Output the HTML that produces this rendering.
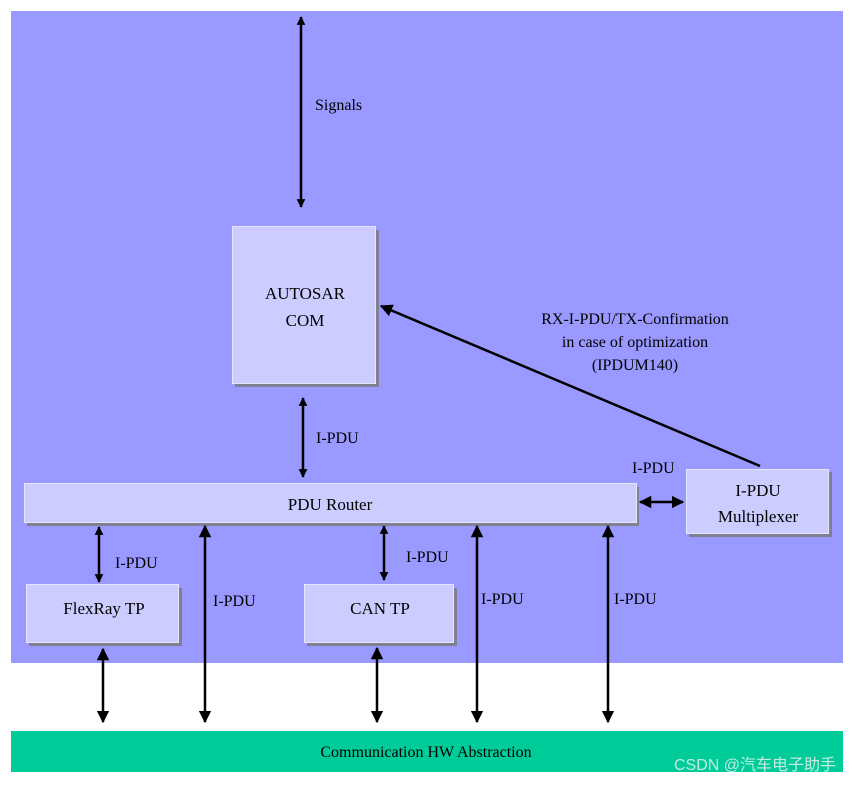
<!DOCTYPE html>
<html><head><meta charset="utf-8"><style>
body{margin:0;background:#fff}
svg text{font-family:"Liberation Serif",serif;fill:#000}
</style></head><body>
<svg width="853" height="783" xmlns="http://www.w3.org/2000/svg">
<defs>
<marker id="a" viewBox="0 0 10 10" refX="9" refY="5" markerWidth="5" markerHeight="5" orient="auto-start-reverse"><path d="M0,0L10,5L0,10z" fill="#000"/></marker>
<marker id="b" viewBox="0 0 10 10" refX="9" refY="5" markerWidth="3.5" markerHeight="3.5" orient="auto-start-reverse"><path d="M0,0L10,5L0,10z" fill="#000"/></marker>
</defs>
<rect x="11" y="11" width="832" height="652" fill="#9999ff"/>
<rect x="11" y="731" width="832" height="41" fill="#00cc99"/>
<text x="426" y="757" font-size="16" text-anchor="middle">Communication HW Abstraction</text>
<text x="836" y="770" font-size="16" text-anchor="end" style="font-family:'Liberation Sans','Noto Sans CJK SC',sans-serif;fill:#e8f0ee" opacity="0.85">CSDN @汽车电子助手</text>
<g fill="#808090">
<rect x="235" y="230" width="144" height="157"/>
<rect x="27" y="487" width="612" height="39"/>
<rect x="29" y="588" width="153" height="58"/>
<rect x="307" y="588" width="150" height="58"/>
<rect x="689" y="472" width="143" height="65"/>
</g>
<g fill="#ccccff" stroke="#e6e6ff" stroke-width="1">
<rect x="232.5" y="226.5" width="143" height="157"/>
<rect x="24.5" y="483.5" width="612" height="39"/>
<rect x="26.5" y="584.5" width="152" height="58"/>
<rect x="304.5" y="584.5" width="149" height="58"/>
<rect x="686.5" y="469.5" width="142" height="64"/>
</g>
<text x="305" y="299" font-size="17" text-anchor="middle">AUTOSAR</text>
<text x="305" y="326" font-size="17" text-anchor="middle">COM</text>
<text x="330" y="510" font-size="17" text-anchor="middle">PDU Router</text>
<text x="104" y="614" font-size="17" text-anchor="middle">FlexRay TP</text>
<text x="380" y="614" font-size="17" text-anchor="middle">CAN TP</text>
<text x="758" y="496" font-size="17" text-anchor="middle">I-PDU</text>
<text x="758" y="522" font-size="17" text-anchor="middle">Multiplexer</text>
<g stroke="#000" stroke-width="2.5" fill="none">
<line x1="301" y1="17" x2="301" y2="207" marker-start="url(#b)" marker-end="url(#b)"/>
<line x1="303" y1="398" x2="303" y2="477" marker-start="url(#b)" marker-end="url(#b)"/>
<line x1="99" y1="527" x2="99" y2="582" marker-start="url(#b)" marker-end="url(#b)"/>
<line x1="384" y1="526" x2="384" y2="580" marker-start="url(#b)" marker-end="url(#b)"/>
<line x1="103" y1="649" x2="103" y2="722" marker-start="url(#a)" marker-end="url(#a)"/>
<line x1="205" y1="526" x2="205" y2="722" marker-start="url(#a)" marker-end="url(#a)"/>
<line x1="377" y1="648" x2="377" y2="722" marker-start="url(#a)" marker-end="url(#a)"/>
<line x1="477" y1="526" x2="477" y2="722" marker-start="url(#a)" marker-end="url(#a)"/>
<line x1="608" y1="526" x2="608" y2="722" marker-start="url(#a)" marker-end="url(#a)"/>
<line x1="640" y1="502" x2="683" y2="502" marker-start="url(#a)" marker-end="url(#a)"/>
<line x1="760" y1="466" x2="381" y2="306" marker-end="url(#a)"/>
</g>
<text x="315" y="110" font-size="16">Signals</text>
<text x="316" y="443" font-size="16">I-PDU</text>
<text x="115" y="568" font-size="16">I-PDU</text>
<text x="406" y="562" font-size="16">I-PDU</text>
<text x="213" y="606" font-size="16">I-PDU</text>
<text x="481" y="604" font-size="16">I-PDU</text>
<text x="614" y="604" font-size="16">I-PDU</text>
<text x="632" y="473" font-size="16">I-PDU</text>
<text x="635" y="324" font-size="16" text-anchor="middle">RX-I-PDU/TX-Confirmation</text>
<text x="635" y="347" font-size="16" text-anchor="middle">in case of optimization</text>
<text x="635" y="370" font-size="16" text-anchor="middle">(IPDUM140)</text>
</svg>
</body></html>
